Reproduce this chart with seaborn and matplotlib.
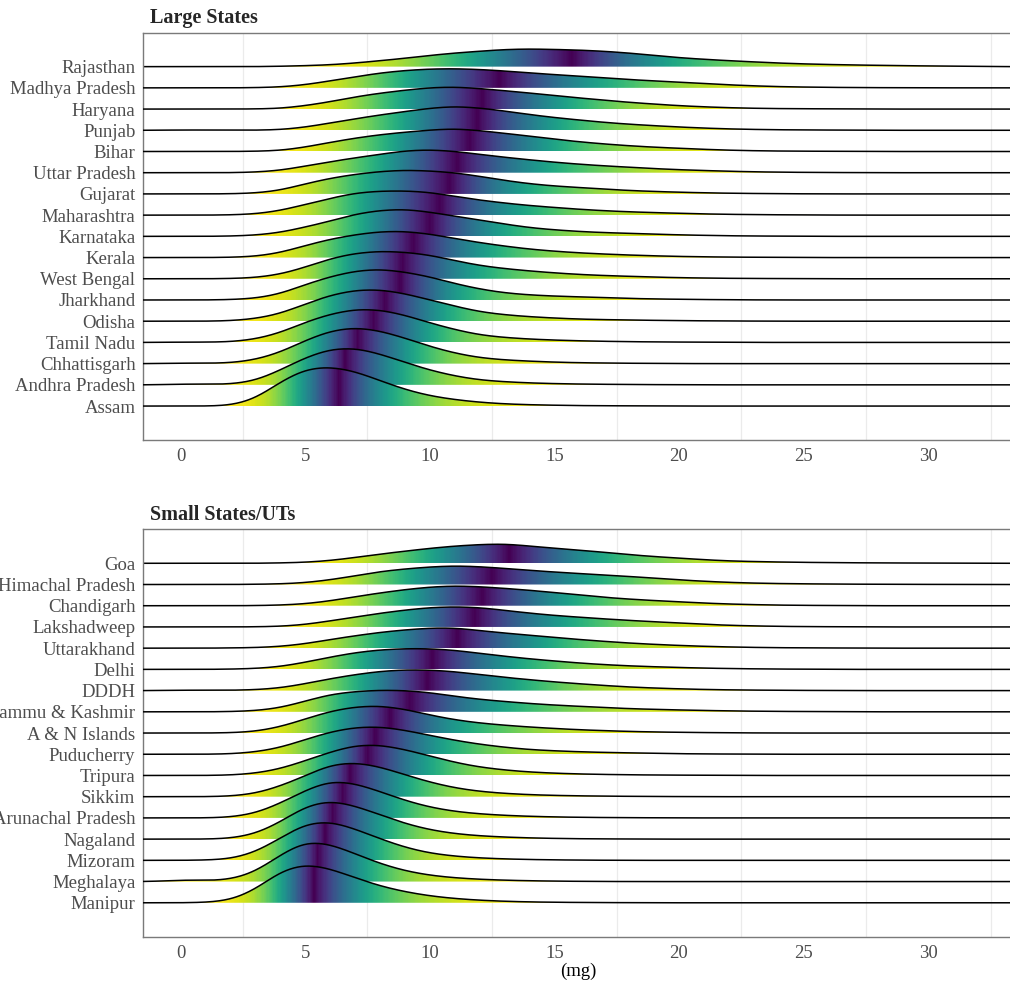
import matplotlib.pyplot as plt
import numpy as np
import seaborn as sns
from matplotlib.patches import Polygon

# density heights (px above each baseline) at x = 0, 1, ..., 32 mg
knots = np.arange(0, 33, dtype=float)

large_states = ["Rajasthan", "Madhya Pradesh", "Haryana", "Punjab", "Bihar",
                "Uttar Pradesh", "Gujarat", "Maharashtra", "Karnataka", "Kerala",
                "West Bengal", "Jharkhand", "Odisha", "Tamil Nadu", "Chhattisgarh",
                "Andhra Pradesh", "Assam"]
large_heights = [
    [0, 0, 0, 0, 0.3, 0.8, 1.5, 3, 5, 7, 9.5, 11.5, 13, 14.5, 15, 14.5, 14, 13, 11.5, 9.5, 7.5,
     6.2, 5, 4, 3, 2.3, 1.8, 1.4, 1.1, 0.8, 0.6, 0.4, 0.3],
    [0, 0, 0, 0.2, 0.8, 3, 7, 11, 15, 17.5, 19, 19.3, 18.5, 17, 15, 13.3, 11.7, 10, 8.3, 7, 5.7,
     4.3, 3, 2, 1.2, 0.8, 0.5, 0.3, 0.2, 0.1, 0.1, 0, 0],
    [0, 0, 0, 0.1, 0.5, 3, 6.5, 11, 14.3, 17, 19.3, 20, 18.5, 16.5, 14.5, 12, 10, 8, 6, 4.5, 3,
     2, 1.2, 0.7, 0.4, 0.3, 0.2, 0.1, 0, 0, 0, 0, 0],
    [0.3, 0.2, 0, 0.1, 0.4, 2.5, 6, 9.5, 12.7, 15.5, 18.3, 20, 18.5, 16, 13, 10.5, 8.5, 6.5, 5, 3.8, 2.7,
     1.8, 1.1, 0.7, 0.4, 0.3, 0.2, 0.1, 0, 0, 0, 0, 0],
    [0, 0, 0, 0.2, 0.8, 4, 8.5, 12.5, 15.7, 18, 20, 21.5, 19.5, 17, 14.3, 11.5, 9, 7, 5.3, 4, 3,
     2, 1.2, 0.7, 0.4, 0.3, 0.2, 0.1, 0, 0, 0, 0, 0],
    [0, 0, 0, 0.5, 2, 6, 10, 13.5, 16.7, 20, 21, 19.5, 16.7, 14, 11.7, 9.5, 7.7, 6.2, 5, 3.7, 2.7,
     2, 1.3, 0.8, 0.5, 0.3, 0.2, 0.1, 0, 0, 0, 0, 0],
    [0, 0, 0.1, 0.7, 3, 9, 14, 17.5, 20, 21.3, 20.5, 19, 15.7, 12, 9, 7, 5.7, 4.3, 3, 2.2, 1.5,
     1, 0.6, 0.4, 0.2, 0.1, 0, 0, 0, 0, 0, 0, 0],
    [0, 0, 0.2, 1, 4, 9.7, 15.3, 20.3, 22, 22.2, 21, 17, 13.7, 11, 8.7, 7, 5.3, 4, 3, 2.3, 1.7,
     1.1, 0.7, 0.5, 0.3, 0.2, 0.1, 0, 0, 0, 0, 0, 0],
    [0, 0, 0.2, 1, 3.3, 8.3, 13.5, 20, 23.3, 24.5, 21.7, 18, 14.5, 11, 7.7, 5.8, 4.3, 3.3, 2.7, 2, 1.3,
     0.9, 0.5, 0.3, 0.2, 0.1, 0, 0, 0, 0, 0, 0, 0],
    [0, 0, 0.2, 1, 4.3, 11, 17, 21, 24, 24.3, 21.7, 17.5, 13.7, 10.5, 7.7, 5.8, 4.3, 3.2, 2.3, 1.6, 1,
     0.7, 0.4, 0.3, 0.2, 0.1, 0, 0, 0, 0, 0, 0, 0],
    [0, 0, 0.2, 1, 4, 10.7, 19, 24, 26, 25, 22.3, 17, 12.3, 9.5, 7.3, 5.5, 4, 3, 2.3, 1.6, 1,
     0.7, 0.4, 0.3, 0.2, 0.1, 0, 0, 0, 0, 0, 0, 0],
    [0, 0, 0.3, 1.3, 5, 13.3, 20, 25, 26.7, 24, 20, 14, 9.3, 6, 4.3, 3.3, 2.7, 2, 1.3, 0.9, 0.6,
     0.4, 0.2, 0.1, 0, 0, 0, 0, 0, 0, 0, 0, 0],
    [0, 0, 0.3, 2, 6, 14.3, 21.7, 26, 26.5, 23, 17.7, 12.5, 7.7, 5.3, 3.7, 2.6, 1.7, 1.3, 1, 0.7, 0.5,
     0.3, 0.2, 0.1, 0, 0, 0, 0, 0, 0, 0, 0, 0],
    [0.3, 0.2, 0.4, 2.5, 7.7, 16.7, 23.3, 27.5, 27, 22.5, 16, 10.5, 6, 4, 2.7, 1.9, 1.3, 0.9, 0.6, 0.4, 0.3,
     0.2, 0.1, 0, 0, 0, 0, 0, 0, 0, 0, 0, 0],
    [0.5, 0.3, 0.5, 3, 9, 19, 27, 30, 27, 21, 14, 8.5, 4.7, 3, 2, 1.2, 0.7, 0.5, 0.3, 0.2, 0.1,
     0, 0, 0, 0, 0, 0, 0, 0, 0, 0, 0, 0],
    [0.8, 0.5, 0.5, 3.3, 13.3, 25, 33, 34, 28.3, 20.5, 13.3, 8, 4.3, 2.8, 1.7, 1.1, 0.7, 0.5, 0.3, 0.2, 0.1,
     0, 0, 0, 0, 0, 0, 0, 0, 0, 0, 0, 0],
    [0, 0, 0.3, 6, 23, 35.5, 37.5, 33, 24, 15.5, 9.5, 6, 3.5, 2, 1.2, 0.8, 0.4, 0.3, 0.2, 0.1, 0,
     0, 0, 0, 0, 0, 0, 0, 0, 0, 0, 0, 0],
]
# position of the darkest (median) band of each ridge
large_medians = [15.7, 12.8, 12.1, 11.9, 11.6, 11.1, 10.8, 10.4, 10.0, 9.35,
                 8.9, 8.8, 8.2, 7.75, 7.1, 6.6, 6.35]

small_states = ["Goa", "Himachal Pradesh", "Chandigarh", "Lakshadweep", "Uttarakhand",
                "Delhi", "DDDH", "Jammu & Kashmir", "A & N Islands", "Puducherry",
                "Tripura", "Sikkim", "Arunachal Pradesh", "Nagaland", "Mizoram",
                "Meghalaya", "Manipur"]
small_heights = [
    [0, 0, 0, 0, 0.3, 0.8, 2.3, 5, 8, 10.5, 13, 15, 16.3, 17, 15, 13, 11.5, 9.5, 7.5, 5.8, 4.5,
     3.1, 2, 1.5, 1.1, 0.8, 0.6, 0.45, 0.3, 0.25, 0.2, 0.15, 0.1],
    [0, 0, 0, 0.2, 0.5, 1.5, 4, 7.5, 11.3, 13.5, 15.3, 16.3, 15.5, 14, 12.3, 10.8, 9.5, 8.3, 7, 5.5, 4,
     2.8, 1.8, 1.2, 0.8, 0.6, 0.4, 0.3, 0.2, 0.15, 0.1, 0.05, 0],
    [0, 0, 0, 0.1, 0.5, 1.5, 4, 7.5, 10.7, 13.5, 15.7, 16.7, 16, 14.5, 13, 11, 9, 7, 5.5, 4.3, 3.3,
     2.2, 1.4, 0.9, 0.5, 0.3, 0.2, 0.1, 0, 0, 0, 0, 0],
    [0, 0, 0, 0.1, 0.5, 2, 5.3, 8.5, 12, 14.7, 17, 17.7, 17, 14.5, 12, 10, 8.5, 7, 5.7, 4.5, 3.5,
     2.3, 1.4, 0.9, 0.5, 0.3, 0.2, 0.1, 0, 0, 0, 0, 0],
    [0, 0, 0.2, 0.5, 1.5, 4, 8, 11.5, 14.7, 17, 18.7, 19, 16.3, 14, 12, 10, 8, 6.3, 4.7, 3.5, 2.5,
     1.7, 1.1, 0.7, 0.4, 0.3, 0.2, 0.1, 0, 0, 0, 0, 0],
    [0, 0, 0.2, 0.8, 2.5, 6.7, 11.7, 16, 18.7, 19.8, 19.8, 18.3, 15.3, 12.5, 10, 8, 6, 4.5, 3.3, 2.5, 1.8,
     1.2, 0.8, 0.5, 0.3, 0.2, 0.1, 0, 0, 0, 0, 0, 0],
    [0.5, 0.3, 0.3, 0.8, 2.5, 6.7, 11.7, 15.7, 19, 20.5, 20.3, 18.7, 15.7, 13, 10.7, 8.5, 6.7, 5, 3.5, 2.5, 1.7,
     1.1, 0.7, 0.5, 0.3, 0.2, 0.1, 0, 0, 0, 0, 0, 0],
    [0, 0, 0.2, 1, 3.7, 10.3, 17, 19.7, 21, 20.7, 18.7, 15, 12, 10, 8, 6.5, 5.3, 4.2, 3, 2.4, 1.8,
     1.3, 0.9, 0.6, 0.4, 0.3, 0.2, 0.1, 0, 0, 0, 0, 0],
    [0, 0, 0.2, 1.2, 5, 11.7, 18.3, 22, 23, 20, 15, 11, 8.3, 6.5, 5, 3.8, 2.7, 2, 1.3, 0.9, 0.6,
     0.4, 0.2, 0.1, 0, 0, 0, 0, 0, 0, 0, 0, 0],
    [0, 0, 0.3, 2, 6, 13.7, 21, 25.3, 26, 22.5, 17.7, 13, 9.3, 6.5, 4.3, 3.2, 2.3, 1.7, 1.3, 0.9, 0.5,
     0.3, 0.2, 0.1, 0, 0, 0, 0, 0, 0, 0, 0, 0],
    [0, 0, 0.3, 1.8, 5.7, 13, 20.7, 27, 27.3, 23, 17.3, 11.5, 7.3, 4.8, 3, 2, 1.3, 0.9, 0.6, 0.4, 0.3,
     0.2, 0.1, 0, 0, 0, 0, 0, 0, 0, 0, 0, 0],
    [0, 0, 0.4, 2.5, 9, 18, 28, 30, 26, 19, 12.5, 7.5, 4.5, 2.8, 1.7, 1.1, 0.7, 0.5, 0.3, 0.2, 0.1,
     0, 0, 0, 0, 0, 0, 0, 0, 0, 0, 0, 0],
    [0, 0, 0.5, 3.5, 12, 23, 31.5, 29, 22, 14.5, 8.8, 5.3, 3.3, 2.1, 1.3, 0.8, 0.5, 0.3, 0.2, 0.1, 0,
     0, 0, 0, 0, 0, 0, 0, 0, 0, 0, 0, 0],
    [0, 0, 0.5, 4, 14, 28, 33, 28, 20.5, 13, 7.7, 4.5, 2.7, 1.7, 1, 0.6, 0.3, 0.2, 0.1, 0, 0,
     0, 0, 0, 0, 0, 0, 0, 0, 0, 0, 0, 0],
    [0, 0.2, 1, 6.5, 19, 32, 34, 27, 18.5, 11, 6, 3.5, 2, 1.2, 0.7, 0.4, 0.2, 0.1, 0, 0, 0,
     0, 0, 0, 0, 0, 0, 0, 0, 0, 0, 0, 0],
    [1.7, 0.8, 1.5, 8, 24, 37, 34, 25, 16, 9.5, 5.5, 3.3, 2, 1.2, 0.7, 0.4, 0.2, 0.1, 0, 0, 0,
     0, 0, 0, 0, 0, 0, 0, 0, 0, 0, 0, 0],
    [0, 0.3, 2, 12, 31, 38, 33, 24, 16, 10.5, 6.5, 4, 2.4, 1.4, 0.8, 0.5, 0.3, 0.2, 0.1, 0, 0,
     0, 0, 0, 0, 0, 0, 0, 0, 0, 0, 0, 0],
]
small_medians = [13.2, 12.5, 12.1, 11.8, 11.1, 10.1, 9.9, 9.2, 8.4, 7.8,
                 7.5, 6.8, 6.5, 6.1, 5.8, 5.5, 5.35]

x_ticks = [0, 5, 10, 15, 20, 25, 30]

sns.set_theme(style="white")
plt.rcParams["font.family"] = ["Liberation Serif", "DejaVu Serif"]

XLIM = (-1.49, 33.39)
BW = 0.65       # kernel sd in mg
SCALE = 1.8     # tallest ridge, in rows
viridis = sns.color_palette("viridis", as_cmap=True)


def density_curve(heights):
    w = np.asarray(heights, dtype=float)
    mean = np.average(knots, weights=w)
    sd = np.sqrt(np.average((knots - mean) ** 2, weights=w))
    scratch, sax = plt.subplots()
    sns.kdeplot(x=knots, weights=w, bw_method=BW / sd, clip=XLIM, cut=20,
                gridsize=700, ax=sax)
    xs, ys = sax.lines[0].get_data()
    plt.close(scratch)
    return np.asarray(xs), np.asarray(ys)


def draw_panel(ax, states, heights, medians, title, title_y):
    n = len(states)
    curves = [density_curve(h) for h in heights]
    top = max(c[1].max() for c in curves)
    for i, ((xs, dens), med) in enumerate(zip(curves, medians)):
        base = n - 1 - i
        h = dens / top * SCALE
        # tail probability, darkest at the median band
        cdf = np.cumsum(dens)
        cdf /= cdf[-1]
        fm = np.interp(med, xs, cdf)
        tp = np.where(xs < med, cdf / (2 * fm), (1 - cdf) / (2 * (1 - fm)))
        cols = viridis(1 - 2 * np.clip(tp, 0, 0.5))
        z = 2 + i
        poly = Polygon(np.column_stack([np.r_[xs, xs[::-1]],
                                        np.r_[base + h, np.full(xs.size, base)]]),
                       closed=True, facecolor="none", edgecolor="none")
        ax.add_patch(poly)
        im = ax.imshow(cols[np.newaxis], extent=(xs[0], xs[-1], base, base + h.max()),
                       origin="lower", aspect="auto", interpolation="nearest", zorder=z)
        im.set_clip_path(poly)
        ax.plot(xs, base + h, color="black", lw=1.1, zorder=z + 0.5)

    ax.set_xlim(XLIM)
    ax.set_ylim(-1.6, n - 1 + 1.6)
    ax.set_yticks(range(n))
    ax.set_yticklabels(states[::-1])
    ax.set_xticks(x_ticks)
    ax.set_xticklabels([str(t) for t in x_ticks])
    ax.set_xticks(np.arange(2.5, 35, 5), minor=True)
    ax.grid(False)
    ax.grid(which="minor", axis="x", color="#EBEBEB", lw=0.9)
    ax.set_axisbelow(True)
    ax.tick_params(which="major", length=3.2, width=0.8, color="#333333",
                   labelcolor="#4D4D4D", labelsize=13.5, pad=2.5)
    ax.tick_params(which="minor", length=0)
    for s in ax.spines.values():
        s.set_color("#7A7A7A")
        s.set_linewidth(1.0)
    fig.text(150 / 1010, 1 - title_y / 985, title, fontsize=14.5,
             fontweight="bold", va="baseline", ha="left")


fig = plt.figure(figsize=(10.1, 9.85), dpi=100)
fig.patch.set_facecolor("white")
ax_top = fig.add_axes([0.1419, 0.5533, 0.8608, 0.4135])
ax_bot = fig.add_axes([0.1419, 0.0490, 0.8608, 0.4136])

draw_panel(ax_top, large_states, large_heights, large_medians, "Large States", 23.5)
draw_panel(ax_bot, small_states, small_heights, small_medians, "Small States/UTs", 519.5)
ax_bot.set_xlabel("(mg)", fontsize=13.5, color="black", labelpad=1)

fig.savefig("out.png", dpi=100)
